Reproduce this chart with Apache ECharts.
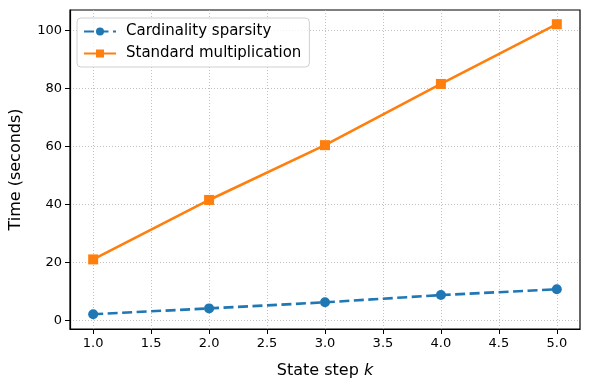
<!DOCTYPE html>
<html>
<head>
<meta charset="utf-8">
<script src="https://cdn.jsdelivr.net/npm/echarts@6/dist/echarts.min.js"></script>
<style>
  html, body { margin: 0; padding: 0; background: #fff; }
  #chart { width: 590px; height: 390px; }
</style>
</head>
<body>
<div id="chart"></div>
<script>
// state steps k
var steps = [1, 2, 3, 4, 5];
// time in seconds
var sparsityTimes = [2.1, 4.1, 6.2, 8.7, 10.7];
var standardTimes = [21.0, 41.5, 60.4, 81.5, 102.1];
// tick labels
var xTicks = [1.0, 1.5, 2.0, 2.5, 3.0, 3.5, 4.0, 4.5, 5.0];
var yTicks = [0, 20, 40, 60, 80, 100];

var font = 'DejaVu Sans';
var myChart = echarts.init(document.getElementById('chart'));

function pairs(xs, ys) {
  return xs.map(function (x, i) { return [x, ys[i]]; });
}

var option = {
  animation: false,
  backgroundColor: '#fff',
  textStyle: { fontFamily: font },
  grid: {
    left: 70, right: 10, top: 10, bottom: 61,
    show: true, borderColor: '#000', borderWidth: 1.2,
    containLabel: false
  },
  legend: {
    left: 77, top: 18,
    orient: 'vertical',
    itemWidth: 32, itemHeight: 10, itemGap: 7,
    padding: [6, 8, 6, 6],
    backgroundColor: 'rgba(255,255,255,0.8)',
    borderColor: '#d0d0d0', borderWidth: 1, borderRadius: 4,
    textStyle: { fontFamily: font, fontSize: 15, color: '#000', padding: [0, 0, 0, 5] },
    data: ['Cardinality sparsity', 'Standard multiplication']
  },
  xAxis: {
    type: 'value',
    min: 0.8, max: 5.2,
    name: 'State step {i|k}',
    nameLocation: 'middle',
    nameGap: 34,
    nameTextStyle: {
      fontFamily: font, fontSize: 16, color: '#000',
      rich: { i: { fontFamily: font, fontSize: 16, fontStyle: 'italic', color: '#000' } }
    },
    axisLine: { show: true, onZero: false, lineStyle: { color: '#000', width: 1.2 } },
    axisTick: { show: true, length: 5, customValues: xTicks, lineStyle: { color: '#000' } },
    axisLabel: {
      customValues: xTicks, margin: 8,
      fontFamily: font, fontSize: 13, color: '#000',
      formatter: function (v) { return v.toFixed(1); }
    },
    splitLine: { show: true, lineStyle: { color: '#b0b0b0', type: [1, 2], width: 0.8 } }
  },
  yAxis: {
    type: 'value',
    min: -3, max: 107,
    name: 'Time (seconds)',
    nameLocation: 'middle',
    nameGap: 46,
    nameTextStyle: { fontFamily: font, fontSize: 16, color: '#000' },
    axisLine: { show: true, onZero: false, lineStyle: { color: '#000', width: 1.2 } },
    axisTick: { show: true, length: 5, customValues: yTicks, lineStyle: { color: '#000' } },
    axisLabel: { customValues: yTicks, margin: 8, fontFamily: font, fontSize: 13, color: '#000' },
    splitLine: { show: true, lineStyle: { color: '#b0b0b0', type: [1, 2], width: 0.8 } }
  },
  series: [{
    name: 'Cardinality sparsity',
    type: 'line',
    data: pairs(steps, sparsityTimes),
    symbol: 'circle',
    symbolSize: 10,
    color: '#1f77b4',
    lineStyle: { width: 2.6, type: [10, 4.5], color: '#1f77b4' },
    itemStyle: { color: '#1f77b4' }
  }, {
    name: 'Standard multiplication',
    type: 'line',
    data: pairs(steps, standardTimes),
    symbol: 'rect',
    symbolSize: 10,
    color: '#ff7f0e',
    lineStyle: { width: 2.6, color: '#ff7f0e' },
    itemStyle: { color: '#ff7f0e' }
  }]
};
myChart.setOption(option);
</script>
</body>
</html>
